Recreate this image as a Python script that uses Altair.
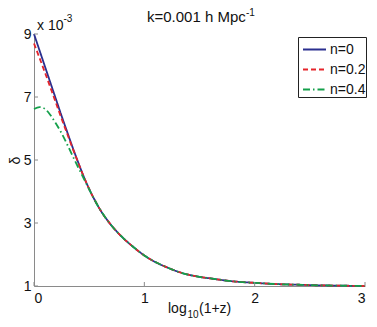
import altair as alt
import pandas as pd

# ---- data ----
log_1pz = [0, 0.05, 0.1, 0.15, 0.2, 0.25, 0.3, 0.35, 0.4, 0.45, 0.5, 0.55, 0.6,
           0.7, 0.8, 0.9, 1.0, 1.1, 1.2, 1.3, 1.4, 1.5, 1.6, 1.8, 2.0, 2.2,
           2.4, 2.6, 2.8, 3.0]
delta_n0 = [9.0, 8.48, 7.96, 7.44, 6.92, 6.40, 5.90, 5.40, 4.93, 4.48, 4.08,
            3.73, 3.42, 2.93, 2.55, 2.24, 1.97, 1.76, 1.60, 1.46, 1.36, 1.29,
            1.24, 1.15, 1.10, 1.06, 1.04, 1.02, 1.01, 1.00]
delta_n02 = [8.70, 8.24, 7.77, 7.29, 6.80, 6.31, 5.84, 5.37, 4.92, 4.48, 4.08,
             3.73, 3.42, 2.93, 2.55, 2.24, 1.97, 1.76, 1.60, 1.46, 1.36, 1.29,
             1.24, 1.15, 1.10, 1.06, 1.04, 1.02, 1.01, 1.00]
delta_n04 = [6.62, 6.68, 6.62, 6.42, 6.15, 5.85, 5.50, 5.13, 4.77, 4.42, 4.07,
             3.73, 3.42, 2.93, 2.55, 2.24, 1.97, 1.76, 1.60, 1.46, 1.36, 1.29,
             1.24, 1.15, 1.10, 1.06, 1.04, 1.02, 1.01, 1.00]
series_labels = ["n=0", "n=0.2", "n=0.4"]
series_colors = ["#2b2f8f", "#e5242b", "#14a04b"]
series_dashes = [[1, 0], [5, 3], [7, 3, 1.5, 3]]
x_ticks = [0, 1, 2, 3]
y_ticks = [1, 3, 5, 7, 9]

rows = []
for lab, vals in zip(series_labels, [delta_n0, delta_n02, delta_n04]):
    for xv, dv in zip(log_1pz, vals):
        rows.append({"x": xv, "d": dv, "n": lab})
df = pd.DataFrame(rows)

W, H = 331, 252
FONT = "Liberation Sans"
AXC = "#8a8a8a"
TXT = "#111111"

xscale = alt.Scale(domain=[0, 3], nice=False, zero=False)
yscale = alt.Scale(domain=[1, 9], nice=False, zero=False)

x_axis = alt.Axis(values=x_ticks, title=None, ticks=False, grid=False,
                  domainColor=AXC, labelFont=FONT, labelFontSize=14,
                  labelColor=TXT, labelPadding=5, format="d")
y_axis = alt.Axis(values=y_ticks, title="δ", ticks=False, grid=False,
                  domainColor=AXC, labelFont=FONT, labelFontSize=14,
                  labelColor=TXT, labelPadding=3, format="d",
                  titleFont=FONT, titleFontSize=14, titleFontWeight="normal",
                  titleColor=TXT, titleX=-19, titleY=126, titleAlign="center",
                  titleBaseline="middle", titleAngle=270)

legend = alt.Legend(
    title=None, orient="none", legendX=264, legendY=3,
    symbolType="stroke", symbolSize=529, symbolStrokeWidth=1.8, symbolOffset=4,
    labelFont=FONT, labelFontSize=14, labelColor=TXT, labelOffset=3,
    rowPadding=-5, padding=0, strokeColor="#222222", fillColor="white",
    cornerRadius=0,
)

lines = alt.Chart(df).mark_line(strokeWidth=1.8, interpolate="monotone").encode(
    x=alt.X("x:Q", scale=xscale, axis=x_axis),
    y=alt.Y("d:Q", scale=yscale, axis=y_axis),
    color=alt.Color("n:N", scale=alt.Scale(domain=series_labels, range=series_colors),
                    legend=legend),
    strokeDash=alt.StrokeDash("n:N", scale=alt.Scale(domain=series_labels, range=series_dashes),
                              legend=legend),
)

ytick_df = pd.DataFrame({"v": y_ticks})
xtick_df = pd.DataFrame({"v": x_ticks})
yticks = alt.Chart(ytick_df).mark_rule(color=AXC, strokeWidth=1).encode(
    y=alt.Y("v:Q", scale=yscale, axis=y_axis), x=alt.value(0), x2=alt.value(4))
xticks = alt.Chart(xtick_df).mark_rule(color=AXC, strokeWidth=1).encode(
    x=alt.X("v:Q", scale=xscale, axis=x_axis), y=alt.value(H), y2=alt.value(H - 4))

one = pd.DataFrame({"k": [0]})


def label(text, x, y, size=14, align="left"):
    return alt.Chart(one).mark_text(
        font=FONT, fontSize=size, color=TXT, align=align, baseline="alphabetic"
    ).encode(x=alt.value(x), y=alt.value(y), text=alt.value(text))


annotations = [
    label("k=0.001 h Mpc", 113, -12, 15),
    label("-1", 212, -18, 10),
    label("x 10", 3, -4, 14),
    label("-3", 29.5, -12, 10),
    label("log", 134, 279, 14),
    label("10", 153.5, 284, 10),
    label("(1+z)", 165, 279, 14),
]

chart = alt.layer(lines, yticks, xticks, *annotations).properties(
    width=W, height=H,
    autosize=alt.AutoSizeParams(type="none"),
    padding={"left": 26, "top": 26, "right": 4, "bottom": 36},
    background="white",
).configure_view(stroke=None)

chart.save("out.html", embed_options={"renderer": "svg", "actions": False})
